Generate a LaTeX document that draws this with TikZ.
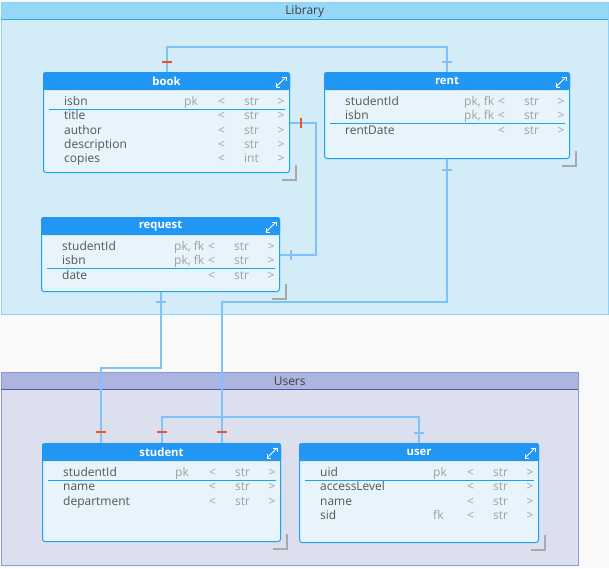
\documentclass[tikz,border=0pt]{standalone}
\usepackage{fontspec}
\setmainfont{Open Sans}
\usetikzlibrary{positioning,calc}

\definecolor{pagebg}{HTML}{F9F9F9}
\definecolor{libbody}{HTML}{D4ECF8}
\definecolor{libhead}{HTML}{96D7F7}
\definecolor{libline}{HTML}{8DD3F6}
\definecolor{libdark}{HTML}{29A9E8}
\definecolor{usrbody}{HTML}{DCDFEE}
\definecolor{usrhead}{HTML}{ADB4DF}
\definecolor{usrline}{HTML}{8F98D6}
\definecolor{usrdark}{HTML}{4C5AB0}
\definecolor{tblhead}{HTML}{2196F3}
\definecolor{tblbody}{HTML}{E8F4FB}
\definecolor{tblline}{HTML}{1AA3F0}
\definecolor{linkblue}{HTML}{7CC3FB}
\definecolor{onered}{HTML}{F4511E}
\definecolor{fieldgray}{HTML}{555555}
\definecolor{typegray}{HTML}{A0A0A0}
\definecolor{cornergray}{HTML}{A8A8A8}

\tikzset{
  grp/.style={rectangle,anchor=north west,inner sep=0pt},
  grptitle/.style={text=black!75,font=\fontsize{12}{14}\selectfont},
  tbl/.style={rectangle,anchor=north west,inner sep=0pt,rounded corners=2.5pt,
    draw=tblline,fill=tblbody,line width=1pt},
  tbltitle/.style={text=white,font=\fontsize{11.3}{13}\selectfont\bfseries},
  icon/.style={draw=white,line width=0.8pt},
  corner/.style={draw=cornergray,line width=2pt},
  cell/.style={inner sep=0pt,text height=9pt,text depth=3pt,font=\fontsize{12}{14}\selectfont},
  fname/.style={cell,anchor=west,text=fieldgray},
  fkey/.style={cell,anchor=west,text=typegray},
  ftype/.style={cell,text=typegray},
  link/.style={draw=linkblue,line width=2pt},
  tick/.style={draw=linkblue,line width=2pt},
  onetick/.style={draw=onered,line width=2pt}
}

% name, x, y, width, height, title
\newcommand{\erdtable}[6]{%
  \node[tbl,minimum width=#4pt,minimum height=#5pt] (#1) at (#2,#3) {};
  \fill[tblhead,rounded corners=2.5pt] (#1.north west) rectangle ([yshift=-18pt]#1.north east);
  \fill[tblhead] ([yshift=-9pt]#1.north west) rectangle ([yshift=-18pt]#1.north east);
  \node[tbltitle] (#1-title) at ([yshift=-9pt]#1.north) {#6};
  \draw[icon] ([xshift=-14pt,yshift=-15pt]#1.north east) coordinate (#1-i) -- ++(10,-10);
  \draw[icon] ($(#1-i)+(0,-4)$) -- (#1-i) -- ++(4,0);
  \draw[icon] ($(#1-i)+(6,-10)$) -- ++(4,0) -- ++(0,4);
  \draw[corner] ([xshift=6pt,yshift=8pt]#1.south east) -- ([xshift=6pt,yshift=-7pt]#1.south east)
    -- ([xshift=-8pt,yshift=-7pt]#1.south east);
}
% table, row, field, key, type
\newcommand{\erdrow}[5]{%
  \node[fname] (#1-f#2) at ($(#1.north west)+(21,30.5+14.25*#2-14.25)$) {#3};
  \node[fkey] (#1-k#2) at ($(#1.north east)+(-106,30.5+14.25*#2-14.25)$) {#4};
  \node[ftype] (#1-l#2) at ($(#1.north east)+(-68.5,30.5+14.25*#2-14.25)$) {<};
  \node[ftype] (#1-t#2) at ($(#1.north east)+(-38.5,30.5+14.25*#2-14.25)$) {#5};
  \node[ftype] (#1-g#2) at ($(#1.north east)+(-9,30.5+14.25*#2-14.25)$) {>};
}
% table, last key row
\newcommand{\erdsep}[2]{%
  \draw[tblline] ($(#1.north west)+(6,37.3+14.25*#2-14.25)$) -- ($(#1.north east)+(-5,37.3+14.25*#2-14.25)$);
}

\begin{document}
\begin{tikzpicture}[x=1pt,y=-1pt]
    \fill[pagebg] (0,0) rectangle (609,568);
    \useasboundingbox (0,0) rectangle (609,568);

    %Groups
    \node[grp,fill=libbody,minimum width=607pt,minimum height=312pt] (library) at (1,2) {};
    \fill[libhead] (library.north west) rectangle ([yshift=-17pt]library.north east);
    \draw[libline] (library.north west) rectangle (library.south east);
    \draw[libdark] ([yshift=-17pt]library.north west) -- ([yshift=-17pt]library.north east);
    \node[grptitle] (library-title) at ([yshift=-9pt]library.north) {Library};

    \node[grp,fill=usrbody,minimum width=577pt,minimum height=193pt] (users) at (1,372) {};
    \fill[usrhead] (users.north west) rectangle ([yshift=-17pt]users.north east);
    \draw[usrline] (users.north west) rectangle (users.south east);
    \draw[usrdark] ([yshift=-17pt]users.north west) -- ([yshift=-17pt]users.north east);
    \node[grptitle] (users-title) at ([yshift=-9pt]users.north) {Users};

    %Tables
    \erdtable{book}{43}{72}{246}{100}{book}
    \erdtable{rent}{324}{72}{245}{86}{rent}
    \erdtable{request}{41}{217}{238}{74}{request}
    \erdtable{student}{42}{443}{238}{98}{student}
    \erdtable{user}{299}{443}{239}{99}{user}

    %Links
    \draw[link] (book.north) -- ++(0,-25) -| (rent.north);
    \draw[link] (book.east) -- ++(26,0) |- (request.east);
    \draw[link] (rent.south) -- ++(0,143) -| ($(student.north)+(60,0)$);
    \draw[link] (request.south) -- ++(0,76) -| ($(student.north)+(-61,0)$);
    \draw[link] (student.north) -- ++(0,-26) -| (user.north);

    %Fields
    \foreach \f/\k/\t [count=\i] in {isbn/pk/str,title//str,author//str,description//str,copies//int}
        \erdrow{book}{\i}{\f}{\k}{\t};
    \erdsep{book}{1}
    \foreach \f/\k/\t [count=\i] in {studentId/{pk, fk}/str,isbn/{pk, fk}/str,rentDate//str}
        \erdrow{rent}{\i}{\f}{\k}{\t};
    \erdsep{rent}{2}
    \foreach \f/\k/\t [count=\i] in {studentId/{pk, fk}/str,isbn/{pk, fk}/str,date//str}
        \erdrow{request}{\i}{\f}{\k}{\t};
    \erdsep{request}{2}
    \foreach \f/\k/\t [count=\i] in {studentId/pk/str,name//str,department//str}
        \erdrow{student}{\i}{\f}{\k}{\t};
    \erdsep{student}{1}
    \foreach \f/\k/\t [count=\i] in {uid/pk/str,accessLevel//str,name//str,sid/fk/str}
        \erdrow{user}{\i}{\f}{\k}{\t};
    \erdsep{user}{1}

    %Ends
    \draw[onetick] ($(book.north)+(-5,-10)$) -- ++(10,0);
    \draw[tick] ($(rent.north)+(-5,-10)$) -- ++(10,0);
    \draw[onetick] ($(book.east)+(11,-5)$) -- ++(0,10);
    \draw[tick] ($(request.east)+(11,-5)$) -- ++(0,10);
    \draw[tick] ($(rent.south)+(-5,11)$) -- ++(10,0);
    \draw[tick] ($(request.south)+(-5,10)$) -- ++(10,0);
    \foreach \dx in {-61,0,60}
        \draw[onetick] ($(student.north)+(\dx-5,-11)$) -- ++(10,0);
    \draw[tick] ($(user.north)+(-5,-10)$) -- ++(10,0);
\end{tikzpicture}
\end{document}
